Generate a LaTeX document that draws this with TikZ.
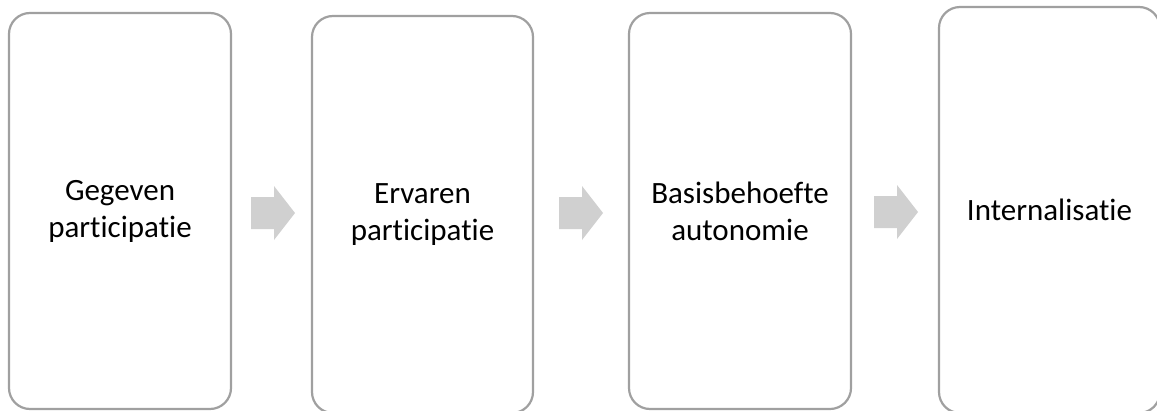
\documentclass[tikz,border=0pt]{standalone}
\usepackage{fontspec}
\setmainfont{Carlito}[Ligatures=NoCommon]
\definecolor{boxline}{HTML}{A0A0A0}
\definecolor{arrowgray}{HTML}{D0D0D0}
\begin{document}
\begin{tikzpicture}[x=1pt,y=-1pt,
  stagebox/.style={draw=boxline, line width=2.2pt, rounded corners=21pt, fill=white,
    minimum width=222pt, align=center, inner sep=0pt,
    font=\fontsize{31}{37}\selectfont, text=black},
  blockarrow/.pic={\fill[arrowgray] (0,-16) -- (23,-16) -- (23,-27) -- (44,0) -- (23,27) -- (23,16) -- (0,16) -- cycle;}]
\useasboundingbox (0,0) rectangle (1157,410);
\clip (0,0) rectangle (1157,410);
\fill[white] (0,0) rectangle (1157,410);
\node[stagebox, minimum height=396pt] (b1) at (120,211) {Gegeven\\participatie};
\node[stagebox, minimum width=221pt, minimum height=397pt] (b2) at (422.5,214.5) {Ervaren\\participatie};
\node[stagebox, minimum height=396pt] (b3) at (740,211) {Basisbehoefte\\autonomie};
\node[stagebox, minimum width=221pt, minimum height=406pt] (b4) at (1049.5,210) {Internalisatie};
\pic (a1) at (251,213) {blockarrow};
\pic (a2) at (559,213) {blockarrow};
\pic (a3) at (874,212) {blockarrow};
\end{tikzpicture}
\end{document}
